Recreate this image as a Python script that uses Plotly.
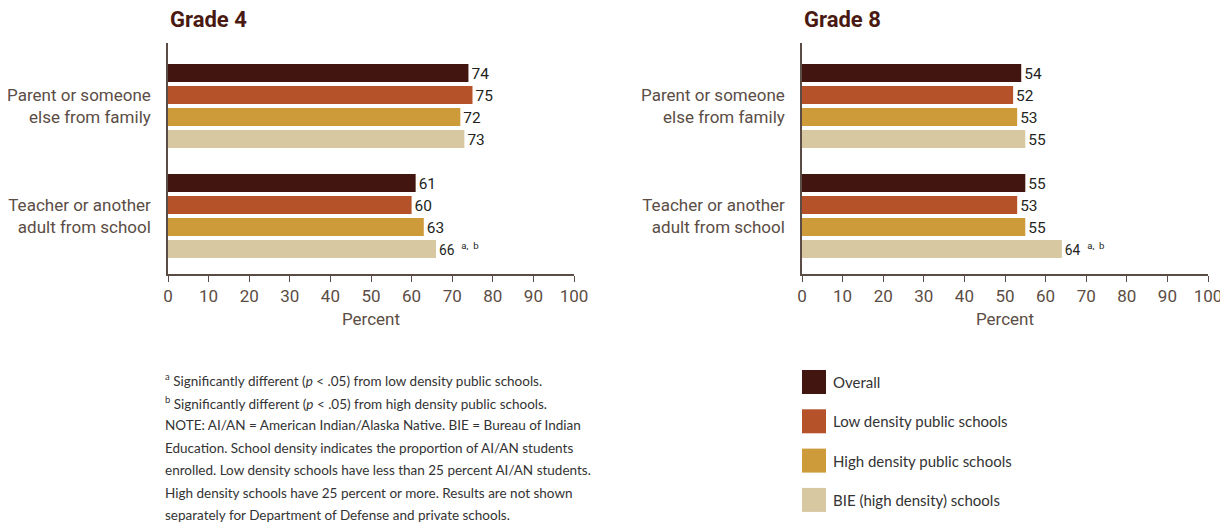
import plotly.graph_objects as go

categories = ["Parent or someone<br>else from family", "Teacher or another<br>adult from school"]
series_names = ["Overall", "Low density public schools", "High density public schools", "BIE (high density) schools"]
colors = ["#421510", "#b5522a", "#cd9b3a", "#d7c8a2"]

grade4 = [[74, 61], [75, 60], [72, 63], [73, 66]]
grade8 = [[54, 55], [52, 53], [53, 55], [55, 64]]
grade4_notes = [["", ""], ["", ""], ["", ""], ["", "a, b"]]
grade8_notes = [["", ""], ["", ""], ["", ""], ["", "a, b"]]

x_ticks = list(range(0, 101, 10))
panel_titles = ["Grade 4", "Grade 8"]

footnote_lines = [
    "<sup>a</sup> Significantly different (<i>p</i> < .05) from low density public schools.",
    "<sup>b</sup> Significantly different (<i>p</i> < .05) from high density public schools.",
    "NOTE: AI/AN = American Indian/Alaska Native. BIE = Bureau of Indian",
    "Education. School density indicates the proportion of AI/AN students",
    "enrolled. Low density schools have less than 25 percent AI/AN students.",
    "High density schools have 25 percent or more. Results are not shown",
    "separately for Department of Defense and private schools.",
]

# page body has an 8px margin; lay out in screen pixels and convert
OFF = 8
W, H = 1228 - OFF, 523 - OFF
COND = "Roboto, Liberation Sans, sans-serif"
TEXT_FONT = "Lato, Open Sans, sans-serif"
AXIS_COL = "#5b4d45"

fig = go.Figure()

panels = [(grade4, grade4_notes, "x", "y"), (grade8, grade8_notes, "x2", "y2")]
for data, notes, xa, ya in panels:
    for i, name in enumerate(series_names):
        texts = []
        for v, n in zip(data[i], notes[i]):
            if n:
                texts.append(f"{v}&nbsp;&nbsp;<sup>{n.replace(' ', '&nbsp;&nbsp;')}</sup>")
            else:
                texts.append(f"{v}")
        fig.add_trace(go.Bar(
            y=categories, x=data[i], orientation="h", name=name,
            marker=dict(color=colors[i], line=dict(width=0)),
            text=texts, textposition="outside", cliponaxis=False,
            textfont=dict(family=COND, size=18, color="#231f20"),
            xaxis=xa, yaxis=ya, showlegend=False, hoverinfo="x+name",
        ))

def px2x(p):
    return (p - OFF) / W

def px2y(p):
    return 1 - (p - OFF) / H

doms = [(px2x(168), px2x(574)), (px2x(802), px2x(1208))]
ydom = [px2y(274), px2y(43)]

axis_common = dict(
    range=[0, 100], tickvals=x_ticks, ticks="outside", ticklen=6, tickcolor=AXIS_COL,
    showline=True, linecolor=AXIS_COL, linewidth=1.5, showgrid=False, zeroline=False,
    automargin=False,
    tickfont=dict(family=COND, size=17, color=AXIS_COL),
    title=dict(text="Percent", font=dict(family=COND, size=17, color=AXIS_COL), standoff=8),
)
yaxis_common = dict(
    range=[1.527, -0.573], showline=True, linecolor=AXIS_COL, linewidth=1.5,
    showgrid=False, zeroline=False, ticks="", ticklabelstandoff=12, automargin=False,
    tickfont=dict(family=COND, size=17, color=AXIS_COL),
)

fig.update_layout(
    width=W, height=H,
    margin=dict(l=0, r=0, t=0, b=0),
    paper_bgcolor="white", plot_bgcolor="white",
    barmode="group", bargap=0.2, bargroupgap=0.18,
    showlegend=False,
    xaxis=dict(domain=list(doms[0]), anchor="y", **axis_common),
    yaxis=dict(domain=ydom, anchor="x", **yaxis_common),
    xaxis2=dict(domain=list(doms[1]), anchor="y2", **axis_common),
    yaxis2=dict(domain=ydom, anchor="x2", **yaxis_common),
)

# panel titles
for t, (d0, d1) in zip(panel_titles, doms):
    fig.add_annotation(
        text=f"<b>{t}</b>", x=d0, y=px2y(20), xref="paper", yref="paper",
        xanchor="left", yanchor="middle", showarrow=False,
        font=dict(family=COND, size=22, color="#4a1a12"),
    )

# footnote, one line at a time for the wider line spacing
for i, line in enumerate(footnote_lines):
    fig.add_annotation(
        text=line, x=px2x(163), y=px2y(380 + i * 22.5), xref="paper", yref="paper",
        xanchor="left", yanchor="middle", align="left", showarrow=False,
        font=dict(family=TEXT_FONT, size=13.5, color="#333333"),
    )

# legend (manual)
for i, (name, c) in enumerate(zip(series_names, colors)):
    top = 370 + i * 39.3
    fig.add_shape(type="rect", xref="paper", yref="paper",
                  x0=px2x(802), x1=px2x(826), y0=px2y(top + 24), y1=px2y(top),
                  fillcolor=c, line=dict(width=0))
    fig.add_annotation(
        text=name, x=px2x(831), y=px2y(top + 12), xref="paper", yref="paper",
        xanchor="left", yanchor="middle", showarrow=False,
        font=dict(family=TEXT_FONT, size=15, color="#333333"),
    )

fig.write_html("out.html")
